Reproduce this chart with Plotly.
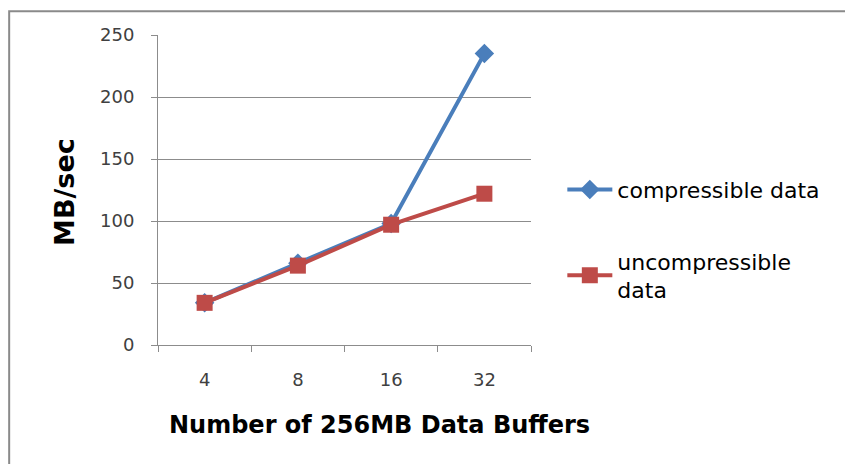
import plotly.graph_objects as go

# Data
buffers = ['4', '8', '16', '32']
compressible = [34, 66, 98, 235]
uncompressible = [34, 64, 97, 122]
y_ticks = [0, 50, 100, 150, 200, 250]

font_family = 'DejaVu Sans, sans-serif'
grid_col = '#8c8c8c'
tick_col = '#404040'

fig = go.Figure()

fig.add_trace(go.Scatter(
    x=buffers, y=compressible, name='compressible data',
    mode='lines+markers', legendgroup='a',
    line=dict(color='#4a7ebb', width=4),
    marker=dict(symbol='diamond', size=15, color='#4a7ebb'),
))
fig.add_trace(go.Scatter(
    x=buffers, y=uncompressible, name='uncompressible<br>data',
    mode='lines+markers', legendgroup='b',
    line=dict(color='#be4b48', width=4),
    marker=dict(symbol='square', size=16, color='#be4b48'),
))

# outer chart border (Excel chart area)
fig.add_shape(type='rect', xref='paper', yref='paper',
              x0=-0.399, x1=1.852, y0=-0.45, y1=1.077,
              line=dict(color='#8a8a8a', width=2), layer='below')

# axis titles
fig.add_annotation(text='<b>MB/sec</b>', xref='paper', yref='paper',
                   x=-0.249, y=0.494, xanchor='center', yanchor='middle',
                   textangle=-90, showarrow=False,
                   font=dict(size=27, color='black', family=font_family))
fig.add_annotation(text='<b>Number of 256MB Data Buffers</b>', xref='paper', yref='paper',
                   x=0.595, y=-0.258, xanchor='center', yanchor='middle',
                   showarrow=False,
                   font=dict(size=24, color='black', family=font_family))

fig.update_layout(
    width=853, height=464,
    margin=dict(l=150, r=330, t=27, b=127),
    paper_bgcolor='white', plot_bgcolor='white',
    font=dict(family=font_family, size=18, color=tick_col),
    showlegend=True,
    legend=dict(x=1.084, y=0.34, xanchor='left', yanchor='middle',
                tracegroupgap=40, itemwidth=45,
                font=dict(size=22, color='black', family=font_family)),
)

fig.update_xaxes(
    type='category', range=[-0.5, 3.5],
    showline=True, linecolor=grid_col, linewidth=1,
    ticks='outside', tickson='boundaries', ticklen=6, tickcolor=grid_col,
    showgrid=False, tickfont=dict(size=18, color=tick_col),
    ticklabelstandoff=18,
)
fig.update_yaxes(
    range=[0, 250], tickvals=y_ticks,
    showline=True, linecolor=grid_col, linewidth=1,
    ticks='outside', ticklen=6, tickcolor=grid_col,
    showgrid=True, gridcolor=grid_col, gridwidth=1,
    zeroline=False, tickfont=dict(size=18, color=tick_col),
    ticklabelstandoff=13,
)

fig.write_html('out.html')
